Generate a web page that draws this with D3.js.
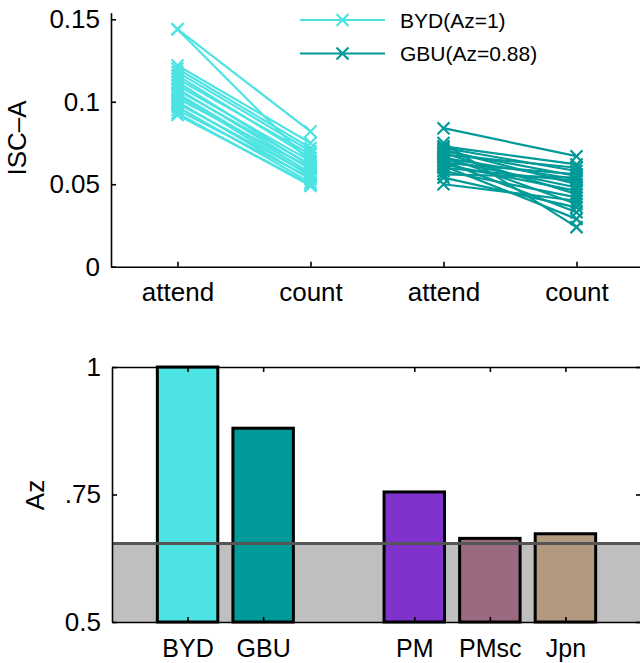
<!DOCTYPE html>
<html>
<head>
<meta charset="utf-8">
<script src="https://cdn.jsdelivr.net/npm/d3@7"></script>
<style>
  body { margin: 0; background: #fff; }
  text { font-family: "Liberation Sans", Arial, sans-serif; }
</style>
</head>
<body>
<div id="chart-area"></div>
<script>
// top panel: ISC per subject, attend vs count
const conditions = ["attend", "count", "attend", "count"]
const bydAttend = [0.144, 0.144, 0.122, 0.120, 0.118, 0.116, 0.114, 0.112, 0.110, 0.108,
                   0.107, 0.105, 0.104, 0.102, 0.100, 0.099, 0.097, 0.095, 0.093, 0.092]
const bydCount  = [0.082, 0.063, 0.075, 0.072, 0.070, 0.066, 0.068, 0.061, 0.064, 0.059,
                   0.062, 0.057, 0.055, 0.060, 0.053, 0.056, 0.051, 0.054, 0.049, 0.050]
const gbuAttend = [0.084, 0.075, 0.073, 0.072, 0.071, 0.070, 0.069, 0.068, 0.067, 0.066,
                   0.065, 0.064, 0.063, 0.062, 0.061, 0.060, 0.058, 0.056, 0.054, 0.050]
const gbuCount  = [0.067, 0.024, 0.062, 0.058, 0.050, 0.055, 0.044, 0.060, 0.038, 0.053,
                   0.048, 0.033, 0.056, 0.046, 0.029, 0.052, 0.042, 0.054, 0.036, 0.040]
const legendLabels = ["BYD(Az=1)", "GBU(Az=0.88)"]
const iscTicks = [0, 0.05, 0.1, 0.15]

// bottom panel: classification Az
const groups = ["BYD", "GBU", "PM", "PMsc", "Jpn"]
const groupPos = [1, 2, 4, 5, 6]
const azValues = [1.0, 0.88, 0.755, 0.664, 0.673]
const azTicks = [0.5, 0.75, 1]
const azTickLabels = ["0.5", ".75", "1"]
const chanceLevel = 0.654

const colors = ["#4de3e3", "#009a98", "#7f33cc", "#9c6a80", "#b39a7e"]

const svg = d3.select("#chart-area").append("svg")
  .attr("width", 640)
  .attr("height", 663)

// ---------- top panel ----------
const xTop = d3.scaleLinear().domain([0.5, 4.5]).range([111, 643])
const yTop = d3.scaleLinear().domain([0, 0.154]).range([266.7, 12.7])

const series = [
  { name: legendLabels[0], color: colors[0], a: bydAttend, c: bydCount, x0: 1 },
  { name: legendLabels[1], color: colors[1], a: gbuAttend, c: gbuCount, x0: 3 }
]

const topPanel = svg.append("g")

function xMark(g, cx, cy, color) {
  const s = 6
  g.append("path")
    .attr("d", `M${cx - s},${cy - s}L${cx + s},${cy + s}M${cx - s},${cy + s}L${cx + s},${cy - s}`)
    .attr("stroke", color)
    .attr("stroke-width", 2.2)
    .attr("fill", "none")
}

series.forEach(s => {
  const g = topPanel.append("g")
  s.a.forEach((v, i) => {
    g.append("line")
      .attr("x1", xTop(s.x0)).attr("y1", yTop(v))
      .attr("x2", xTop(s.x0 + 1)).attr("y2", yTop(s.c[i]))
      .attr("stroke", s.color)
      .attr("stroke-width", 2.2)
    xMark(g, xTop(s.x0), yTop(v), s.color)
    xMark(g, xTop(s.x0 + 1), yTop(s.c[i]), s.color)
  })
})

const yAxisTop = d3.axisLeft(yTop)
  .tickValues(iscTicks)
  .tickSize(-5)
  .tickSizeOuter(0)
  .tickPadding(11)
  .tickFormat(d => d === 0 ? "0" : String(d))

const xAxisTop = d3.axisBottom(xTop)
  .tickValues([1, 2, 3, 4])
  .tickSize(-5)
  .tickSizeOuter(0)
  .tickPadding(15.5)
  .tickFormat((d, i) => conditions[i])

topPanel.append("g").attr("transform", "translate(111,0)").call(yAxisTop)
topPanel.append("g").attr("transform", "translate(0,266.7)").call(xAxisTop)

// legend
series.forEach((s, i) => {
  const ly = 20 + i * 33.5
  const g = topPanel.append("g")
  g.append("line")
    .attr("x1", 300).attr("x2", 385)
    .attr("y1", ly).attr("y2", ly)
    .attr("stroke", s.color).attr("stroke-width", 2)
  xMark(g, 342.5, ly, s.color)
  g.append("text")
    .attr("x", 400).attr("y", ly)
    .attr("dy", "0.36em")
    .attr("font-size", 21)
    .text(s.name)
})

svg.append("text")
  .attr("transform", "translate(17,138) rotate(-90)")
  .attr("text-anchor", "middle")
  .attr("dy", "0.36em")
  .attr("font-size", 26)
  .text("ISC–A")

// ---------- bottom panel ----------
const xBot = d3.scaleLinear().domain([0, 7]).range([112, 641])
const yBot = d3.scaleLinear().domain([0.5, 1]).range([622, 367])
const barW = xBot(0.8) - xBot(0)

const bot = svg.append("g")

bot.append("rect")
  .attr("x", xBot(0)).attr("width", xBot(7) - xBot(0))
  .attr("y", yBot(chanceLevel)).attr("height", yBot(0.5) - yBot(chanceLevel))
  .attr("fill", "#bfbfbf")

bot.selectAll(".bar")
  .data(azValues)
  .enter().append("rect")
  .attr("class", "bar")
  .attr("x", (d, i) => xBot(groupPos[i]) - barW / 2)
  .attr("width", barW)
  .attr("y", d => yBot(d))
  .attr("height", d => yBot(0.5) - yBot(d))
  .attr("fill", (d, i) => colors[i])
  .attr("stroke", "#000")
  .attr("stroke-width", 3)

bot.append("line")
  .attr("x1", xBot(0)).attr("x2", xBot(7))
  .attr("y1", yBot(chanceLevel)).attr("y2", yBot(chanceLevel))
  .attr("stroke", "#555")
  .attr("stroke-width", 3)

// axes box
bot.append("g").attr("transform", `translate(${xBot(0)},0)`)
  .call(d3.axisLeft(yBot).tickValues(azTicks).tickSize(-5).tickSizeOuter(0).tickPadding(11)
    .tickFormat((d, i) => azTickLabels[i]))
bot.append("g").attr("transform", `translate(${xBot(7)},0)`)
  .call(d3.axisRight(yBot).tickValues(azTicks).tickSize(-5).tickSizeOuter(0).tickFormat(""))
const xAxisBot = bot.append("g").attr("class", "xbot").attr("transform", `translate(0,${yBot(0.5)})`)
  .call(d3.axisBottom(xBot).tickValues(groupPos).tickSize(-5).tickSizeOuter(0).tickPadding(17)
    .tickFormat((d, i) => groups[i]))
bot.append("g").attr("transform", `translate(0,${yBot(1)})`)
  .call(d3.axisTop(xBot).tickValues(groupPos).tickSize(-5).tickSizeOuter(0).tickFormat(""))

svg.append("text")
  .attr("transform", "translate(35,495) rotate(-90)")
  .attr("text-anchor", "middle")
  .attr("dy", "0.36em")
  .attr("font-size", 26)
  .text("Az")

// axis styling, matlab-like
svg.selectAll(".domain, .tick line")
  .attr("stroke", "#000")
  .attr("stroke-width", 1.6)
svg.selectAll(".tick text")
  .attr("font-size", 26)
  .attr("fill", "#000")
  .attr("font-family", "Liberation Sans, Arial, sans-serif")
xAxisBot.selectAll(".tick text").attr("font-size", 25)
</script>
</body>
</html>
